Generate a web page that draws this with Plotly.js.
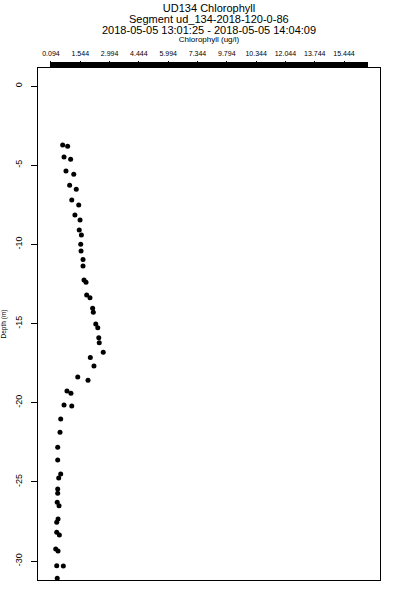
<!DOCTYPE html>
<html>
<head>
<meta charset="utf-8">
<script src="https://cdn.plot.ly/plotly-3.0.1.min.js"></script>
<style>html,body{margin:0;padding:0;background:#fff;}#chart{width:400px;height:600px;}</style>
</head>
<body>
<div id="chart"></div>
<script>
// Chlorophyll (ug/l) readings and their depths (m)
const chlorophyll = [0.80,1.10,0.88,1.28,1.00,1.47,1.22,1.62,1.35,1.77,1.54,1.85,1.80,1.93,1.89,1.91,2.03,2.03,
  2.09,2.21,2.25,2.45,2.61,2.65,2.80,2.92,2.98,3.01,3.25,2.47,2.69,1.71,2.33,1.06,1.30,0.88,1.35,0.68,0.64,
  0.50,0.50,0.56,0.68,0.50,0.50,0.47,0.58,0.44,0.52,0.44,0.60,0.38,0.52,0.44,0.84,0.47];
const depth = [-3.73,-3.81,-4.48,-4.63,-5.37,-5.58,-6.27,-6.52,-7.20,-7.52,-8.15,-8.46,-9.09,-9.41,-10.00,-10.42,-10.95,-11.37,
  -12.25,-12.40,-13.20,-13.37,-14.04,-14.29,-15.03,-15.27,-15.90,-16.21,-16.82,-17.14,-17.68,-18.38,-18.59,-19.26,-19.41,-20.15,-20.21,-21.03,-21.87,
  -22.82,-23.62,-24.76,-24.51,-25.45,-25.72,-26.29,-26.51,-27.56,-27.35,-28.19,-28.36,-29.24,-29.37,-30.30,-30.32,-31.09];
const xTickLabels = ['0.094','1.544','2.994','4.444','5.994','7.344','9.794','10.344','12.044','13.744','15.444'];
const depthTicks = [0,-5,-10,-15,-20,-25,-30];

const titleLines = ['UD134 Chlorophyll','Segment ud_134-2018-120-0-86','2018-05-05 13:01:25 - 2018-05-05 14:04:09'];

// layout: positions of the top tick labels along the axis (evenly spread as in the picture)
const xTickPos = [0.094,1.864,3.635,5.405,7.176,8.946,10.716,12.487,14.257,16.028,17.798];

const FONT = 'Liberation Sans, Arial, Helvetica, sans-serif';

const trace = {
  x: chlorophyll, y: depth, type: 'scatter', mode: 'markers',
  marker: {color: '#000', size: 5, line: {width: 0}},
  hoverinfo: 'skip', showlegend: false
};

const layout = {
  width: 400, height: 600,
  margin: {l: 38, r: 20, t: 68, b: 20},
  paper_bgcolor: '#fff', plot_bgcolor: '#fff',
  font: {family: FONT, color: '#000'},
  title: {text: titleLines[0], font: {size: 11, family: FONT, color: '#000'},
          x: 0.5, xref: 'paper', xanchor: 'center', y: 1 - 8/600, yref: 'container', yanchor: 'middle'},
  annotations: [
    {text: titleLines[1], xref: 'paper', yref: 'paper', x: 0.5, y: (580-19)/512, xanchor: 'center', yanchor: 'middle',
     showarrow: false, font: {size: 11, family: FONT, color: '#000'}},
    {text: titleLines[2], xref: 'paper', yref: 'paper', x: 0.5, y: (580-30)/512, xanchor: 'center', yanchor: 'middle',
     showarrow: false, font: {size: 11, family: FONT, color: '#000'}}
  ],
  xaxis: {
    side: 'top', range: [-0.691, 19.973], showgrid: false, zeroline: false,
    showline: true, mirror: true, linecolor: '#000', linewidth: 1,
    tickmode: 'array', tickvals: xTickPos, ticktext: xTickLabels, tickangle: 0,
    ticks: 'outside', ticklen: 6, tickcolor: '#000', ticklabelstandoff: 2,
    tickfont: {size: 7, family: FONT, color: '#000'},
    title: {text: 'Chlorophyll (ug/l)', font: {size: 8, family: FONT, color: '#000'}, standoff: 6}
  },
  yaxis: {
    range: [-31.2, 1.137], showgrid: false, zeroline: false,
    showline: true, mirror: true, linecolor: '#000', linewidth: 1,
    tickmode: 'array', tickvals: depthTicks, ticktext: depthTicks.map(String),
    ticks: 'outside', ticklen: 6, tickcolor: '#000', tickangle: -90, ticklabelstandoff: 5,
    tickfont: {size: 9, family: FONT, color: '#000'},
    title: {text: 'Depth (m)', font: {size: 6.5, family: FONT, color: '#000'}, standoff: 8}
  },
  shapes: [
    {type: 'rect', xref: 'paper', yref: 'paper', x0: (51-38)/342, x1: (368-38)/342,
     y0: (580-67.5)/512, y1: (580-62)/512, fillcolor: '#000', line: {width: 0}}
  ]
};

Plotly.newPlot('chart', [trace], layout, {displayModeBar: false, staticPlot: true});
</script>
</body>
</html>
